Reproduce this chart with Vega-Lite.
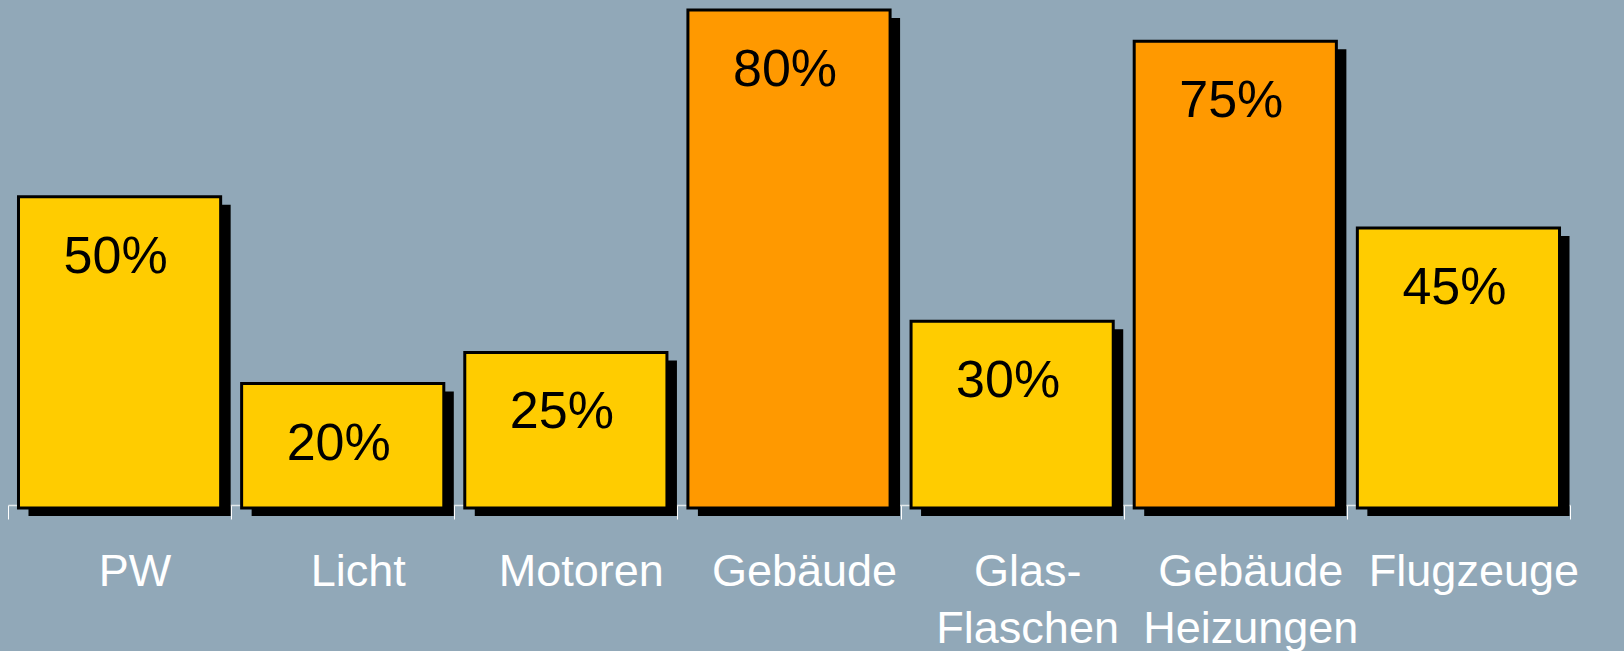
{
  "$schema": "https://vega.github.io/schema/vega-lite/v6.json",
  "autosize": {"type": "none"},
  "width": 1562,
  "height": 498,
  "padding": {"left": 8, "top": 10, "right": 54, "bottom": 143},
  "background": "#91a8b8",
  "config": {"view": {"stroke": null}, "font": "Liberation Sans"},
  "data": {
    "values": [
      {"kategorie": "PW", "anteil": 0.50},
      {"kategorie": "Licht", "anteil": 0.20},
      {"kategorie": "Motoren", "anteil": 0.25},
      {"kategorie": "Gebäude", "anteil": 0.80},
      {"kategorie": "Glas-|Flaschen", "anteil": 0.30},
      {"kategorie": "Gebäude|Heizungen", "anteil": 0.75},
      {"kategorie": "Flugzeuge", "anteil": 0.45}
    ]
  },
  "encoding": {
    "x": {
      "field": "kategorie",
      "type": "nominal",
      "sort": null,
      "scale": {"paddingInner": 0, "paddingOuter": 0},
      "axis": {
        "title": null,
        "offset": -3,
        "tickBand": "extent",
        "domainColor": "#e3e9ec",
        "domainWidth": 1.5,
        "tickColor": "#ffffff",
        "tickWidth": 1,
        "tickSize": 14,
        "labelColor": "#ffffff",
        "labelFont": "Liberation Sans",
        "labelFontSize": 45,
        "labelAngle": 0,
        "labelLimit": 0,
        "labelOverlap": false,
        "labelFlush": false,
        "labelBaseline": "alphabetic",
        "labelPadding": 66,
        "labelLineHeight": 57,
        "labelOffset": 15,
        "labelExpr": "split(datum.label, '|')"
      }
    },
    "y": {
      "field": "anteil",
      "type": "quantitative",
      "scale": {"domain": [0, 0.8], "nice": false, "zero": true},
      "axis": null
    }
  },
  "layer": [
    {
      "mark": {"type": "bar", "color": "#000000", "width": {"band": 0.906}, "xOffset": 10, "yOffset": 8, "y2Offset": 2}
    },
    {
      "mark": {"type": "bar", "stroke": "#000000", "strokeWidth": 3, "width": {"band": 0.906}},
      "encoding": {
        "color": {
          "condition": {"test": "datum.anteil >= 0.7", "value": "#ff9900"},
          "value": "#ffcc00"
        }
      }
    },
    {
      "mark": {"type": "text", "baseline": "alphabetic", "align": "center", "dy": 76, "dx": -4, "fontSize": 52, "font": "Liberation Sans", "color": "#000000"},
      "encoding": {
        "text": {"field": "anteil", "type": "quantitative", "format": ".0%"}
      }
    }
  ]
}
